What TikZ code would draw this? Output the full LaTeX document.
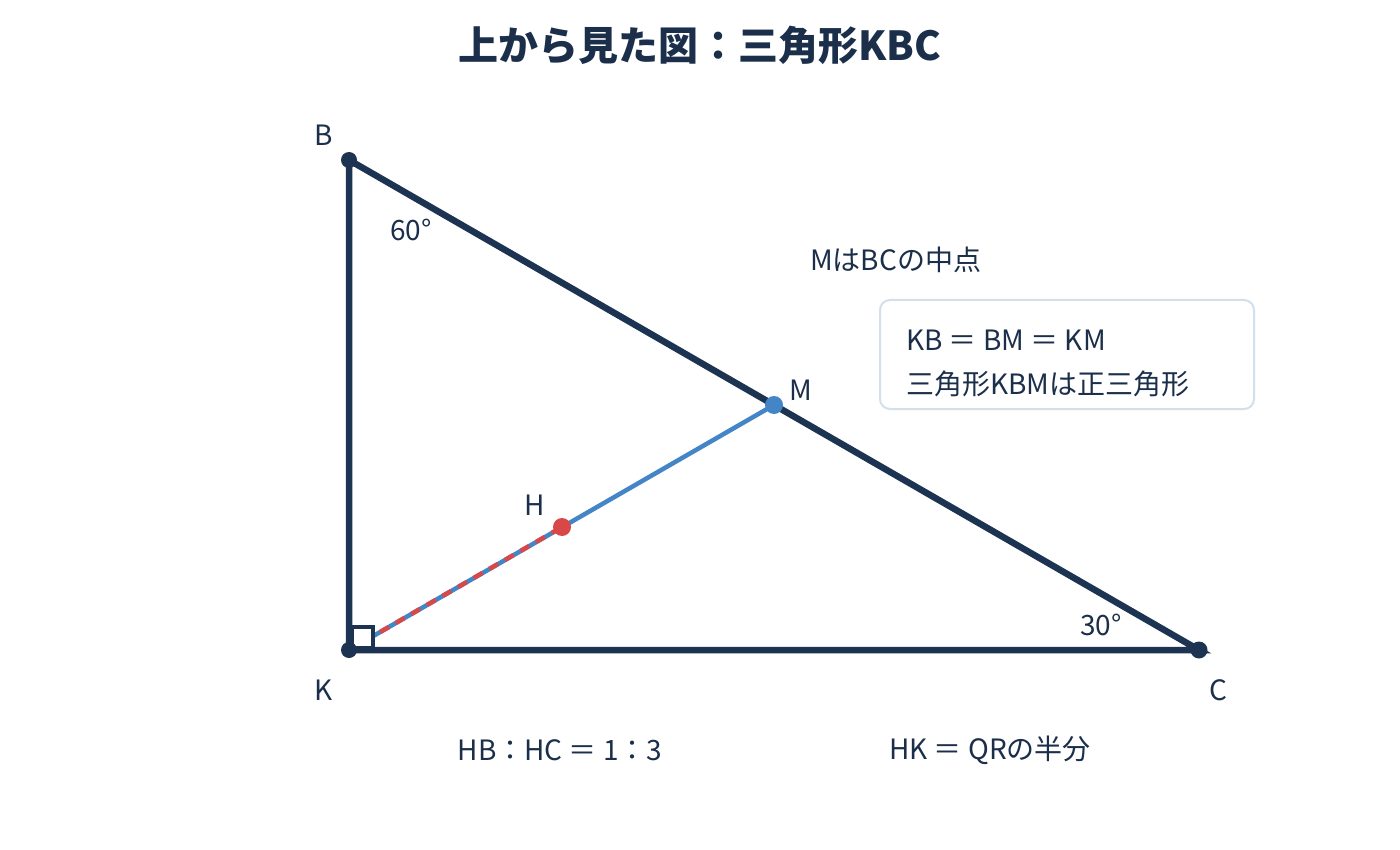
\documentclass[tikz,border=0pt]{standalone}
\usepackage{fontspec}
\setmainfont{Noto Sans CJK JP}
\definecolor{ink}{HTML}{1B2F4B}
\definecolor{tri}{HTML}{1C3452}
\definecolor{bl}{HTML}{4485C7}
\definecolor{rd}{HTML}{D94848}
\definecolor{boxline}{HTML}{D3DFEA}
\tikzset{
  lbl/.style={text=ink,font=\fontsize{28}{32}\selectfont,inner sep=0pt},
  dotp/.style={circle,fill=#1,inner sep=0pt,minimum size=17pt},
}
\begin{document}
\begin{tikzpicture}[x=1pt,y=-1pt]
\useasboundingbox (0,0) rectangle (1400,850);
\fill[white] (0,0) rectangle (1400,850);
\coordinate (K) at (349,650);
\coordinate (B) at (349,160);
\coordinate (C) at (1199,650);
\coordinate (M) at (774,405);
\coordinate (H) at (562,527);
% title
\node[text=ink,font=\fontsize{40}{44}\selectfont\bfseries] (title) at (700,45) {上から見た図：三角形KBC};
% blue line
\draw[bl,line width=4.5pt] (K) -- (M);
\draw[rd,line width=4.5pt,dash pattern=on 10pt off 8pt] (K) -- (H);
% triangle
\draw[tri,line width=6.5pt,line join=miter] (B) -- (K) -- (C) -- cycle;
% right angle square
\draw[tri,line width=4pt,fill=white] (352,626.5) rectangle (373,648);
% dots
\node[dotp=tri,minimum size=16pt] (dB) at (B) {};
\node[dotp=tri,minimum size=16pt] (dK) at (K) {};
\node[dotp=tri,minimum size=17pt] (dC) at (C) {};
\node[dotp=bl,minimum size=18pt] (dM) at (M) {};
\node[dotp=rd,minimum size=18pt] (dH) at (H) {};
% labels
\node[lbl] (lB) at (324,135) {B};
\node[lbl] (lK) at (324,690) {K};
\node[lbl] (lC) at (1218,690) {C};
\node[lbl] (lM) at (801,390) {M};
\node[lbl] (lH) at (535,505) {H};
\node[lbl] (a60) at (411,230) {60°};
\node[lbl] (a30) at (1101,625) {30°};
\node[lbl,anchor=west] (mid) at (810,260) {MはBCの中点};
% box
\draw[boxline,line width=2pt,rounded corners=10pt] (880,300) rectangle (1254,409);
\node[lbl,anchor=west] (eq1) at (906,340) {KB ＝ BM ＝ KM};
\node[lbl,anchor=west] (eq2) at (906,384) {三角形KBMは正三角形};
% bottom
\node[lbl] (r1) at (560,750) {HB：HC ＝ 1：3};
\node[lbl] (r2) at (990,750) {HK ＝ QRの半分};
\end{tikzpicture}
\end{document}
